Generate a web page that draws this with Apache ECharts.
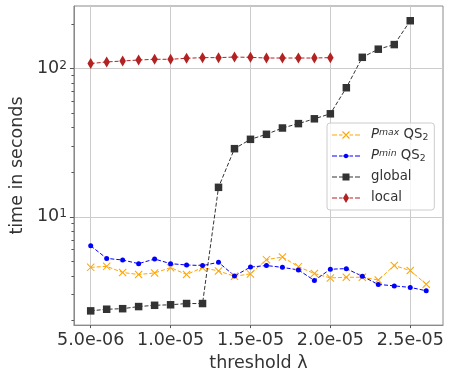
<!DOCTYPE html>
<html>
<head>
<meta charset="utf-8">
<script src="https://cdn.jsdelivr.net/npm/echarts@6/dist/echarts.min.js"></script>
<style>
  html, body { margin: 0; padding: 0; background: #ffffff; }
  #chart { width: 450px; height: 377px; }
</style>
</head>
<body>
<div id="chart"></div>
<script>
// Threshold values (x) shared by all runs
const thresholds = [5.0e-6, 6.0e-6, 7.0e-6, 8.0e-6, 9.0e-6, 1.0e-5, 1.1e-5, 1.2e-5,
  1.3e-5, 1.4e-5, 1.5e-5, 1.6e-5, 1.7e-5, 1.8e-5, 1.9e-5, 2.0e-5, 2.1e-5, 2.2e-5,
  2.3e-5, 2.4e-5, 2.5e-5, 2.6e-5];

// Run times in seconds
const pmaxTimes = [4.56, 4.63, 4.21, 4.08, 4.18, 4.54, 4.08, 4.54, 4.31, 3.97, 4.12,
  5.14, 5.35, 4.61, 4.14, 3.87, 3.91, 3.91, 3.75, 4.69, 4.34, 3.51];
const pminTimes = [6.37, 5.24, 5.11, 4.83, 5.19, 4.83, 4.73, 4.69, 4.93, 3.99, 4.58,
  4.69, 4.56, 4.38, 3.72, 4.43, 4.47, 3.97, 3.50, 3.42, 3.34, 3.17];
const globalTimes = [2.32, 2.38, 2.40, 2.48, 2.53, 2.55, 2.60, 2.60, 15.8, 28.8, 33.3,
  36.0, 39.7, 42.5, 45.8, 49.5, 74.2, 119, 135, 145, 210];
const localTimes = [108, 110.7, 112.4, 114.1, 115.4, 115.4, 117.2, 118.4, 118.4, 119.5,
  118.9, 117.7, 117.7, 117.7, 117.7, 118.4];

// Axis ticks
const xTicks = [5.0e-6, 1.0e-5, 1.5e-5, 2.0e-5, 2.5e-5];
const yMajorTicks = [10, 100];
const yMinorTicks = [2, 3, 4, 5, 6, 7, 8, 9, 20, 30, 40, 50, 60, 70, 80, 90, 200];

const seriesNames = ['pmax', 'pmin', 'global', 'local'];
const legendLabels = {
  pmax: '{it|P}{sup|max}{n| QS}{sub|2}',
  pmin: '{it|P}{sup|min}{n| QS}{sub|2}',
  global: '{n|global}',
  local: '{n|local}'
};

const FONT = 'DejaVu Sans';
const TEXT = '#333333';
const X_MIN = 3.95e-6, X_MAX = 2.705e-5;
const Y_MIN = 1.86, Y_MAX = 264;

function pairs(values) {
  return values.map((v, i) => [thresholds[i], v]);
}

function sciLabel(v) {
  let e = Math.floor(Math.log10(Math.abs(v)) + 1e-9);
  let m = v / Math.pow(10, e);
  if (Math.abs(m) >= 9.95) { m /= 10; e += 1; }
  const sign = e < 0 ? '-' : '+';
  const ae = Math.abs(e);
  return m.toFixed(1) + 'e' + sign + (ae < 10 ? '0' + ae : String(ae));
}

// Marker shapes
function segQuad(x1, y1, x2, y2, w) {
  const dx = x2 - x1, dy = y2 - y1, len = Math.hypot(dx, dy);
  const nx = -dy / len * w / 2, ny = dx / len * w / 2;
  return 'M' + (x1 + nx) + ',' + (y1 + ny) + 'L' + (x2 + nx) + ',' + (y2 + ny) +
    'L' + (x2 - nx) + ',' + (y2 - ny) + 'L' + (x1 - nx) + ',' + (y1 - ny) + 'Z';
}
const X_SYMBOL = 'path://' + segQuad(0, 0, 10, 10, 1.4) + segQuad(10, 0, 0, 10, 1.4);

// Legend icons: dashed stroke with the marker in the middle (28 x 14 box)
const ICON_FRAME = 'M0,0L0.02,0L0,0.02Z M28,14L27.98,14L28,13.98Z ';
const ICON_DASH = 'M0,6.5L5,6.5L5,7.5L0,7.5Z M7,6.5L10.5,6.5L10.5,7.5L7,7.5Z ' +
  'M17.5,6.5L21,6.5L21,7.5L17.5,7.5Z M23,6.5L28,6.5L28,7.5L23,7.5Z ';
const legendIcons = {
  pmax: 'path://' + ICON_FRAME + ICON_DASH + segQuad(10.5, 3.5, 17.5, 10.5, 1.1) + segQuad(17.5, 3.5, 10.5, 10.5, 1.1),
  pmin: 'path://' + ICON_FRAME + ICON_DASH + 'M11,6.5L17,6.5L17,7.5L11,7.5Z M16.2,7A2.2,2.2 0 1 1 11.8,7A2.2,2.2 0 1 1 16.2,7Z',
  global: 'path://' + ICON_FRAME + ICON_DASH + 'M10.5,3.5L17.5,3.5L17.5,10.5L10.5,10.5Z',
  local: 'path://' + ICON_FRAME + ICON_DASH + 'M14,2L17,7L14,12L11,7Z'
};

const seriesStyle = {
  pmax:   { color: '#FFA500', symbol: X_SYMBOL, size: 8, data: pairs(pmaxTimes) },
  pmin:   { color: '#0000FF', symbol: 'circle', size: 5, data: pairs(pminTimes) },
  global: { color: '#333333', symbol: 'rect', size: 7.5, data: pairs(globalTimes) },
  local:  { color: '#B22222', symbol: 'diamond', size: [6.5, 11], data: pairs(localTimes) }
};

const chart = echarts.init(document.getElementById('chart'), null, { renderer: 'canvas' });

chart.setOption({
  animation: false,
  backgroundColor: '#ffffff',
  grid: {
    left: 71, right: 7, top: 6, bottom: 49,
    show: true, borderColor: '#8a8a8a', borderWidth: 1, backgroundColor: 'transparent'
  },
  xAxis: {
    type: 'value', min: X_MIN, max: X_MAX,
    axisLine: { show: true, lineStyle: { color: '#8a8a8a', width: 1 } },
    axisTick: { show: true, length: 3, customValues: xTicks, lineStyle: { color: '#555555' } },
    axisLabel: {
      customValues: xTicks, formatter: sciLabel, margin: 6,
      fontFamily: FONT, fontSize: 17.5, color: TEXT
    },
    splitLine: { show: true, lineStyle: { color: '#cccccc', width: 1 } },
    name: 'threshold λ', nameLocation: 'middle', nameGap: 28,
    nameTextStyle: { fontFamily: FONT, fontSize: 17.5, color: TEXT }
  },
  yAxis: [{
    type: 'log', logBase: 10, min: Y_MIN, max: Y_MAX,
    axisLine: { show: true, lineStyle: { color: '#8a8a8a', width: 1 } },
    axisTick: { show: true, length: 4, customValues: yMajorTicks, lineStyle: { color: '#555555' } },
    axisLabel: {
      customValues: yMajorTicks, margin: 7,
      formatter: v => '{b|10}{s|' + Math.round(Math.log10(v)) + '}',
      rich: {
        b: { fontFamily: FONT, fontSize: 17.5, color: TEXT, lineHeight: 18, verticalAlign: 'bottom' },
        s: { fontFamily: FONT, fontSize: 12.2, color: TEXT, lineHeight: 12, verticalAlign: 'top' }
      }
    },
    splitLine: { show: true, lineStyle: { color: '#cccccc', width: 1 } },
    name: 'time in seconds', nameLocation: 'middle', nameGap: 43,
    nameTextStyle: { fontFamily: FONT, fontSize: 17.5, color: TEXT }
  }, {
    type: 'log', logBase: 10, min: Y_MIN, max: Y_MAX, position: 'left',
    axisLine: { show: false },
    axisTick: { show: true, length: 2.5, customValues: yMinorTicks, lineStyle: { color: '#555555' } },
    axisLabel: { show: false },
    splitLine: { show: false }
  }],
  legend: {
    orient: 'vertical', left: 327, top: 123,
    padding: [5, 6, 5, 5], itemWidth: 28, itemHeight: 14, itemGap: 7,
    backgroundColor: 'rgba(255,255,255,0.8)', borderColor: '#cccccc', borderWidth: 1, borderRadius: 3,
    itemStyle: { borderWidth: 0 },
    data: seriesNames.map(n => ({ name: n, icon: legendIcons[n] })),
    formatter: n => legendLabels[n],
    textStyle: {
      fontFamily: FONT, fontSize: 13.3, color: TEXT, padding: [0, 0, 0, 6],
      rich: {
        it: { fontFamily: FONT, fontSize: 13.3, fontStyle: 'italic', color: TEXT, lineHeight: 14 },
        n: { fontFamily: FONT, fontSize: 13.3, color: TEXT, lineHeight: 14 },
        sup: { fontFamily: FONT, fontSize: 9.3, fontStyle: 'italic', color: TEXT, lineHeight: 8, verticalAlign: 'top' },
        sub: { fontFamily: FONT, fontSize: 9.3, color: TEXT, lineHeight: 8, verticalAlign: 'bottom' }
      }
    }
  },
  series: seriesNames.map(n => {
    const s = seriesStyle[n];
    return {
      name: n, type: 'line', data: s.data,
      symbol: s.symbol, symbolSize: s.size, showSymbol: true,
      itemStyle: { color: s.color, borderWidth: 0 },
      lineStyle: { color: s.color, width: 1, type: [4, 2] },
      emphasis: { disabled: true }
    };
  })
});
</script>
</body>
</html>
